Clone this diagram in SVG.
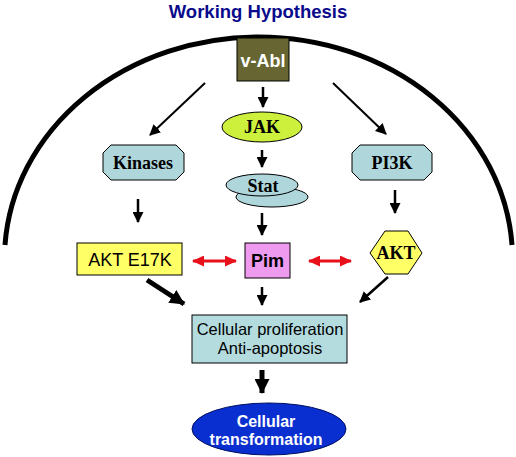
<svg xmlns="http://www.w3.org/2000/svg" width="516" height="457" viewBox="0 0 516 457">
<style>
.t{font-family:"Liberation Serif","Times New Roman",serif;font-weight:bold;font-size:18px;text-anchor:middle;fill:#000}
.a{font-family:"Liberation Sans",Arial,sans-serif;text-anchor:middle}
.ln{stroke:#000;fill:none}
.blue{fill:#afd6da;stroke:#000;stroke-width:1}
</style>
<defs>
<marker id="ah" markerUnits="userSpaceOnUse" markerWidth="11" markerHeight="11" refX="10" refY="5.5" orient="auto"><path d="M0,0 L11,5.5 L0,11 z" fill="#000"/></marker>
<marker id="ahb" markerUnits="userSpaceOnUse" markerWidth="15" markerHeight="15" refX="14" refY="7.5" orient="auto"><path d="M0,0 L15,7.5 L0,15 z" fill="#000"/></marker>
<marker id="ahr" markerUnits="userSpaceOnUse" markerWidth="12" markerHeight="11" refX="11" refY="5.5" orient="auto-start-reverse"><path d="M0,0 L12,5.5 L0,11 z" fill="#e8101a"/></marker>
</defs>
<rect width="516" height="457" fill="#fff"/>
<text x="258" y="18" class="a" style="font-weight:bold;font-size:18.5px;fill:#0a0a8c">Working Hypothesis</text>
<path id="cell" d="M5,245 A254,222 0 0 1 512,245" class="ln" stroke-width="5"/>
<g id="connectors">
<line x1="263" y1="87" x2="263" y2="107" class="ln" stroke-width="2.5" marker-end="url(#ah)"/>
<line x1="205" y1="83" x2="150" y2="135" class="ln" stroke-width="2" marker-end="url(#ah)"/>
<line x1="333" y1="83" x2="386" y2="134" class="ln" stroke-width="2" marker-end="url(#ah)"/>
<line x1="262" y1="150" x2="262" y2="167" class="ln" stroke-width="2.5" marker-end="url(#ah)"/>
<line x1="138" y1="199" x2="138" y2="222" class="ln" stroke-width="2.5" marker-end="url(#ah)"/>
<line x1="395" y1="190" x2="395" y2="213" class="ln" stroke-width="2.5" marker-end="url(#ah)"/>
<line x1="262" y1="213" x2="262" y2="235" class="ln" stroke-width="2.5" marker-end="url(#ah)"/>
<line x1="193" y1="261" x2="236" y2="261" stroke="#e8101a" stroke-width="3" marker-start="url(#ahr)" marker-end="url(#ahr)"/>
<line x1="309" y1="261" x2="351" y2="261" stroke="#e8101a" stroke-width="3" marker-start="url(#ahr)" marker-end="url(#ahr)"/>
<line x1="147" y1="280" x2="184" y2="304" class="ln" stroke-width="5" marker-end="url(#ahb)"/>
<line x1="262" y1="287" x2="262" y2="305" class="ln" stroke-width="2.5" marker-end="url(#ah)"/>
<line x1="388" y1="277" x2="360" y2="302" class="ln" stroke-width="2.5" marker-end="url(#ah)"/>
<line x1="262" y1="370" x2="262" y2="393" class="ln" stroke-width="5" marker-end="url(#ahb)"/>
</g>
<g id="vabl">
<rect x="237" y="38" width="52" height="43" fill="#676633" stroke="#000" stroke-width="1"/>
<text x="263" y="67" class="a" style="font-weight:bold;font-size:18px;fill:#fff">v-Abl</text>
</g>
<g id="jak">
<ellipse cx="262" cy="127" rx="40" ry="15" fill="#ccf03c" stroke="#000" stroke-width="1"/>
<text x="262" y="133" class="t">JAK</text>
</g>
<g id="kinases">
<polygon points="111,145 176,145 184,153 184,172 176,180 111,180 103,172 103,153" class="blue"/>
<text x="143" y="169" class="t">Kinases</text>
</g>
<g id="pi3k">
<polygon points="360,145 424,145 432,153 432,172 424,180 360,180 352,172 352,153" class="blue"/>
<text x="392" y="169" class="t">PI3K</text>
</g>
<g id="stat">
<ellipse cx="272" cy="197" rx="36" ry="10" class="blue"/>
<ellipse cx="262" cy="185" rx="36" ry="11" class="blue"/>
<text x="263" y="192" class="t">Stat</text>
</g>
<g id="akte17k">
<rect x="77" y="243" width="105" height="32" fill="#ffff66" stroke="#000" stroke-width="1"/>
<text x="130" y="266" class="a" style="font-size:18px">AKT E17K</text>
</g>
<g id="pim">
<rect x="245" y="243" width="45" height="35" fill="#ee9aee" stroke="#000" stroke-width="1"/>
<text x="267.5" y="267" class="a" style="font-weight:bold;font-size:18px">Pim</text>
</g>
<g id="akt">
<polygon points="370,253 385,231 408,231 422,253 408,274 385,274" fill="#ffff66" stroke="#000" stroke-width="1"/>
<text x="396" y="259" class="t">AKT</text>
</g>
<g id="prolif">
<rect x="192" y="315" width="155" height="48" fill="#b4dcdf" stroke="#000" stroke-width="1"/>
<text x="270" y="335" class="a" style="font-size:16.5px">Cellular proliferation</text>
<text x="270" y="354" class="a" style="font-size:16.5px">Anti-apoptosis</text>
</g>
<g id="transform">
<ellipse cx="269" cy="429" rx="77" ry="26" fill="#0a2fd0" stroke="#001060" stroke-width="1"/>
<text x="266" y="427" class="a" style="font-weight:bold;font-size:16px;fill:#fff">Cellular</text>
<text x="266" y="445" class="a" style="font-weight:bold;font-size:16px;fill:#fff">transformation</text>
</g>
</svg>
